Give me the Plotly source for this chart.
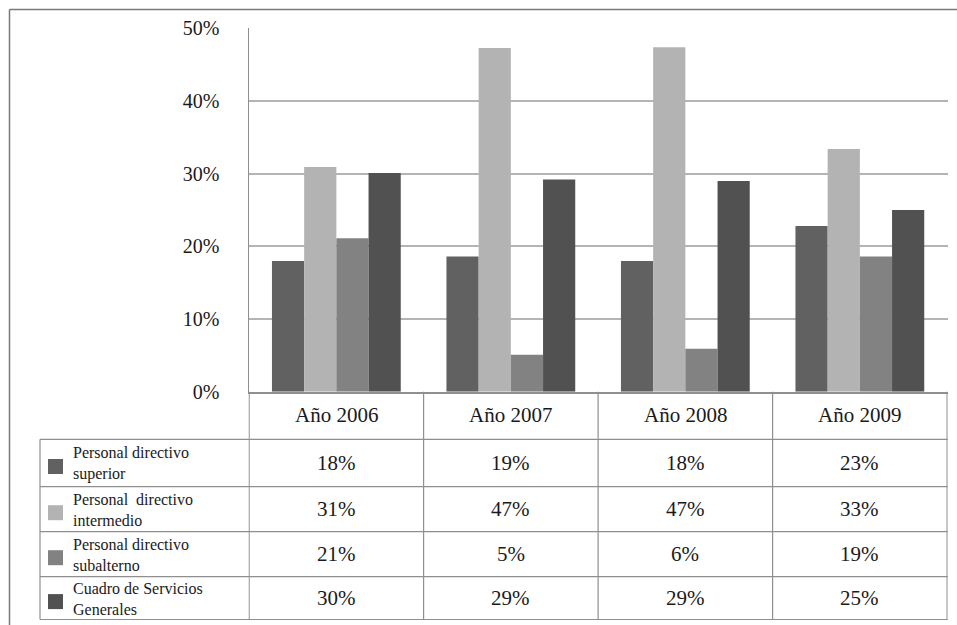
import plotly.graph_objects as go

# Data: share of staff per category and year (percent)
years = ["Año 2006", "Año 2007", "Año 2008", "Año 2009"]
series_names = [
    ("Personal directivo", "superior"),
    ("Personal  directivo", "intermedio"),
    ("Personal directivo", "subalterno"),
    ("Cuadro de Servicios", "Generales"),
]
superior = [18.0, 18.6, 18.0, 22.8]
intermedio = [30.9, 47.3, 47.4, 33.4]
subalterno = [21.1, 5.1, 5.9, 18.6]
cuadro = [30.1, 29.2, 29.0, 25.0]
series_values = [superior, intermedio, subalterno, cuadro]
colors = ["#616161", "#b3b3b3", "#828282", "#515151"]
y_ticks = [0, 10, 20, 30, 40, 50]

W, H = 957, 625
FONT = "Liberation Serif"
TEXT_COLOR = "#1a1a1a"

# Layout geometry in pixels
plot_left, plot_right = 248.5, 947.7
plot_top, plot_bottom = 28.3, 391.7
table_left = 40
row_edges = [391.7, 439.3, 486.7, 531.7, 576.7, 619.5]
line_col = "#8f8f8f"


def px(x):
    return x / W


def py(y):
    return 1 - y / H


fig = go.Figure()
for (l1, l2), vals, col in zip(series_names, series_values, colors):
    fig.add_trace(go.Bar(
        x=years, y=vals, name=f"{l1} {l2}",
        marker=dict(color=col, line=dict(width=0)),
        showlegend=False,
    ))

shapes = []
annotations = []

# Outer frame
shapes.append(dict(type="line", xref="paper", yref="paper",
                   x0=px(9.5), x1=1.0, y0=py(9.5), y1=py(9.5),
                   line=dict(color="#7a7a7a", width=1.5)))
shapes.append(dict(type="line", xref="paper", yref="paper",
                   x0=px(9.5), x1=px(9.5), y0=py(9.5), y1=0,
                   line=dict(color="#7a7a7a", width=1.5)))

# Column dividers of the data table (category boundaries)
for i in range(len(years) + 1):
    shapes.append(dict(type="line", xref="x", yref="paper",
                       x0=i - 0.5, x1=i - 0.5,
                       y0=py(row_edges[0]), y1=py(row_edges[-1]),
                       line=dict(color=line_col, width=1.2)))
# Left edge of legend column
shapes.append(dict(type="line", xref="paper", yref="paper",
                   x0=px(table_left), x1=px(table_left),
                   y0=py(row_edges[1]), y1=py(row_edges[-1]),
                   line=dict(color=line_col, width=1.2)))
# Horizontal row lines
for y in row_edges[1:]:
    shapes.append(dict(type="line", xref="paper", yref="paper",
                       x0=px(table_left), x1=px(plot_right),
                       y0=py(y), y1=py(y),
                       line=dict(color=line_col, width=1.2)))

# Header row: year labels
hy = (row_edges[0] + row_edges[1]) / 2
for yr in years:
    annotations.append(dict(x=yr, xref="x", y=py(hy), yref="paper",
                            text=yr, showarrow=False, yanchor="middle",
                            font=dict(family=FONT, size=21, color=TEXT_COLOR)))

# Data rows: legend keys, labels and values
for r, ((l1, l2), vals, col) in enumerate(zip(series_names, series_values, colors)):
    top, bot = row_edges[r + 1], row_edges[r + 2]
    cy = (top + bot) / 2
    shapes.append(dict(type="rect", xref="paper", yref="paper",
                       x0=px(48), x1=px(63),
                       y0=py(cy + 3.5 - 7.5), y1=py(cy + 3.5 + 7.5),
                       fillcolor=col, line=dict(width=0)))
    annotations.append(dict(x=px(71), xref="paper", y=py(cy + 1), yref="paper",
                            text=f"{l1}<br>{l2}", showarrow=False,
                            xanchor="left", yanchor="middle", align="left",
                            font=dict(family=FONT, size=16, color=TEXT_COLOR)))
    for yr, v in zip(years, vals):
        annotations.append(dict(x=yr, xref="x", y=py(cy), yref="paper",
                                text=f"{round(v)}%", showarrow=False,
                                yanchor="middle",
                                font=dict(family=FONT, size=21, color=TEXT_COLOR)))

fig.update_layout(
    width=W, height=H,
    margin=dict(l=0, r=0, t=0, b=0, pad=0, autoexpand=False),
    paper_bgcolor="white", plot_bgcolor="white",
    barmode="group", bargap=0.262, bargroupgap=0,
    shapes=shapes, annotations=annotations,
    xaxis=dict(domain=[px(plot_left), px(plot_right)], showticklabels=False,
               showline=True, linecolor=line_col, linewidth=1.5,
               showgrid=False, ticks="", zeroline=False, fixedrange=True,
               automargin=False),
    yaxis=dict(domain=[py(plot_bottom), py(plot_top)], range=[0, 50],
               tickvals=y_ticks, ticktext=[f"{t}%" for t in y_ticks],
               tickfont=dict(family=FONT, size=20, color=TEXT_COLOR),
               ticklabelstandoff=24,
               showgrid=True, gridcolor="#b4b4b4", gridwidth=1.5,
               showline=True, linecolor=line_col, linewidth=1.2,
               zeroline=False, fixedrange=True, automargin=False),
)

fig.write_html("out.html")
